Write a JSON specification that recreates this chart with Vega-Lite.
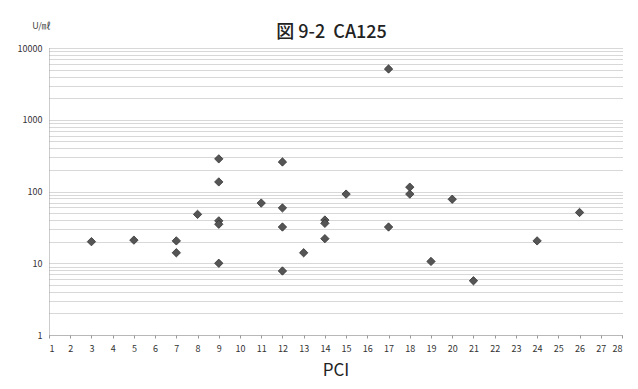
{
  "$schema": "https://vega.github.io/schema/vega-lite/v6.json",
  "autosize": {"type": "none"},
  "width": 573,
  "height": 287,
  "padding": {"left": 49, "top": 48, "right": 16, "bottom": 54},
  "background": "#ffffff",
  "title": {
    "text": "図 9-2\u00a0\u00a0CA125",
    "font": "Noto Sans CJK JP",
    "fontSize": 18,
    "fontWeight": 500,
    "color": "#222222",
    "anchor": "middle",
    "dx": -4,
    "offset": -21
  },
  "config": {
    "view": {"stroke": null},
    "axis": {"labelFont": "Noto Sans CJK JP", "titleFont": "Noto Sans CJK JP", "labelColor": "#333333", "titleColor": "#222222"}
  },
  "data": {
    "values": [
      {"pci": 3, "ca125": 20},
      {"pci": 5, "ca125": 21},
      {"pci": 7, "ca125": 20.5},
      {"pci": 7, "ca125": 14},
      {"pci": 8, "ca125": 48},
      {"pci": 9, "ca125": 285},
      {"pci": 9, "ca125": 136},
      {"pci": 9, "ca125": 39},
      {"pci": 9, "ca125": 35},
      {"pci": 9, "ca125": 10},
      {"pci": 11, "ca125": 69},
      {"pci": 12, "ca125": 258},
      {"pci": 12, "ca125": 59},
      {"pci": 12, "ca125": 32},
      {"pci": 12, "ca125": 7.8},
      {"pci": 13, "ca125": 14},
      {"pci": 14, "ca125": 40},
      {"pci": 14, "ca125": 36},
      {"pci": 14, "ca125": 22},
      {"pci": 15, "ca125": 92},
      {"pci": 17, "ca125": 5100},
      {"pci": 17, "ca125": 32},
      {"pci": 18, "ca125": 115},
      {"pci": 18, "ca125": 92},
      {"pci": 19, "ca125": 10.6},
      {"pci": 20, "ca125": 78},
      {"pci": 21, "ca125": 5.7},
      {"pci": 24, "ca125": 20.5},
      {"pci": 26, "ca125": 51}
    ]
  },
  "mark": {"type": "point", "shape": "diamond", "filled": true, "size": 70, "color": "#555555", "stroke": "#333333", "strokeWidth": 0.8, "opacity": 1},
  "encoding": {
    "x": {
      "field": "pci",
      "type": "quantitative",
      "scale": {"domain": [1, 28], "nice": false, "zero": false},
      "axis": {
        "title": "PCI",
        "titleFontSize": 17,
        "titleFontWeight": "normal",
        "titlePadding": 9,
        "values": [1,2,3,4,5,6,7,8,9,10,11,12,13,14,15,16,17,18,19,20,21,22,23,24,25,26,27,28],
        "format": "d",
        "labelFontSize": 9,
        "labelPadding": 6,
        "tickSize": 3,
        "tickColor": "#999999",
        "domainColor": "#999999",
        "domainDash": [1, 1],
        "grid": false
      }
    },
    "y": {
      "field": "ca125",
      "type": "quantitative",
      "scale": {"type": "log", "domain": [1, 10000], "nice": false},
      "axis": {
        "title": "U/㎖",
        "titleAngle": 0,
        "titleX": -8,
        "titleY": -23,
        "titleAlign": "center",
        "titleBaseline": "middle",
        "titleFontSize": 9,
        "titleFontWeight": "normal",
        "titleColor": "#444444",
        "values": [1,2,3,4,5,6,7,8,9,10,20,30,40,50,60,70,80,90,100,200,300,400,500,600,700,800,900,1000,2000,3000,4000,5000,6000,7000,8000,9000,10000],
        "labelExpr": "datum.value == 1 || datum.value == 10 || datum.value == 100 || datum.value == 1000 || datum.value == 10000 ? format(datum.value, 'd') : ''",
        "labelFontSize": 9,
        "labelPadding": 7,
        "ticks": false,
        "domainColor": "#999999",
        "domainDash": [1, 1],
        "grid": true,
        "gridColor": "#b0b0b0",
        "gridDash": [1, 1],
        "gridWidth": 1
      }
    }
  }
}
